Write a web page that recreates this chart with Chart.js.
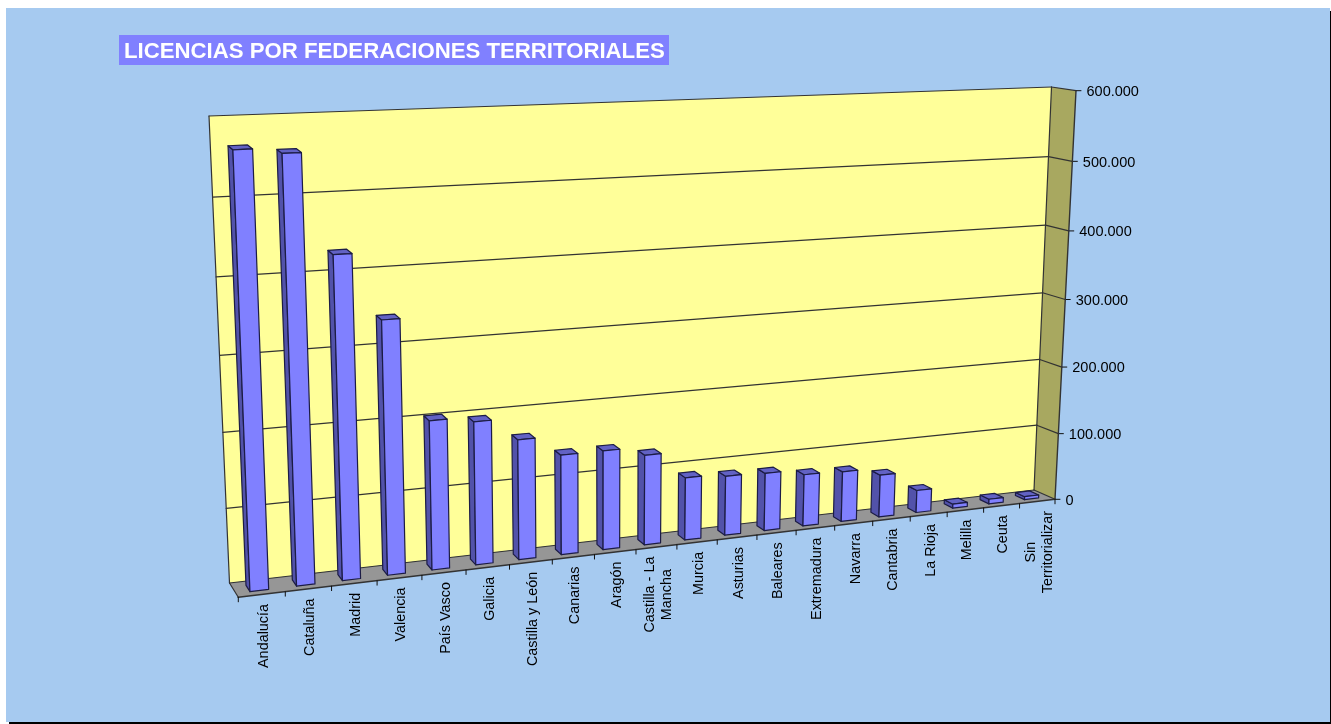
<!DOCTYPE html>
<html><head><meta charset="utf-8">
<style>html,body{margin:0;padding:0;background:#fff;overflow:hidden}canvas{display:block;filter:blur(0.35px)}</style>
<script src="https://cdn.jsdelivr.net/npm/chart.js@4"></script></head>
<body><canvas id="c" width="1331" height="724"></canvas>
<script>
const categories = ['Andalucía','Cataluña','Madrid','Valencia','País Vasco','Galicia','Castilla y León','Canarias','Aragón',['Castilla - La','Mancha'],'Murcia','Asturias','Baleares','Extremadura','Navarra','Cantabria','La Rioja','Melilla','Ceuta',['Sin','Territorializar']];
const licencias = [566000,559000,429000,341000,203000,196000,166000,139000,139000,127000,89000,85000,83000,75000,73000,62000,33000,6000,7000,4500];
const yTickStep = 100000, yMax = 600000;
const titleText = 'LICENCIAS POR FEDERACIONES TERRITORIALES';

// projection of the chart area on to the 3-D box
const backQuad  = [[209,116],[1051.5,87],[1034,490],[229.5,583]];
const frontQuad = [[220,125],[1076,90.7],[1055,499.3],[238.3,597.3]];
const depthNear = 0.72, depthFar = 0.28;

function homography(q){
  const [[x0,y0],[x1,y1],[x2,y2],[x3,y3]] = q;
  const dx1=x1-x2, dx2=x3-x2, sx=x0-x1+x2-x3, dy1=y1-y2, dy2=y3-y2, sy=y0-y1+y2-y3;
  const det=dx1*dy2-dx2*dy1;
  const g=(sx*dy2-dx2*sy)/det, h=(dx1*sy-sx*dy1)/det;
  const a=x1-x0+g*x1, b=x3-x0+h*x3, d=y1-y0+g*y1, e=y3-y0+h*y3;
  return (s,t)=>{const w=g*s+h*t+1;return [(a*s+b*t+x0)/w,(d*s+e*t+y0)/w];};
}
const HB=homography(backQuad), HF=homography(frontQuad);
// u: 0..1 along the categories, v: 0..1 up the values, d: 0 back .. 1 front
function P(u,v,d){const b=HB(u,1-v),f=HF(u,1-v);return [b[0]+(f[0]-b[0])*d,b[1]+(f[1]-b[1])*d];}
function poly(ctx,pts,fill,stroke,lw){
  ctx.beginPath();pts.forEach((p,i)=>i?ctx.lineTo(p[0],p[1]):ctx.moveTo(p[0],p[1]));ctx.closePath();
  if(fill){ctx.fillStyle=fill;ctx.fill();}
  if(stroke){ctx.strokeStyle=stroke;ctx.lineWidth=lw||1;ctx.lineJoin='round';ctx.stroke();}
}
function line(ctx,a,b,c,lw){ctx.beginPath();ctx.moveTo(a[0],a[1]);ctx.lineTo(b[0],b[1]);ctx.strokeStyle=c;ctx.lineWidth=lw||1;ctx.stroke();}
const fmt=n=>String(n).replace(/\B(?=(\d{3})+$)/g,'.');

const box3d={
  id:'box3d',
  beforeDraw(ch){
    const c=ch.ctx;
    c.save();
    c.fillStyle='#fff';c.fillRect(0,0,1331,724);
    c.fillStyle='#000';c.fillRect(9,722,1322,2);c.fillRect(1330,11,1,713);
    c.fillStyle='#A6CAF0';c.fillRect(6,8,1324,714);
    c.fillStyle='#8080FF';c.fillRect(119,35,550,30);
    c.fillStyle='#fff';c.font='bold 22.2px "Liberation Sans"';c.textAlign='left';c.textBaseline='alphabetic';
    c.fillText(titleText,124,58);
    c.restore();
  },
  beforeDatasetsDraw(ch){
    const c=ch.ctx,a=ch.chartArea,y=ch.scales.y;
    const edge='#333';
    c.save();c.lineCap='round';
    poly(c,[P(0,1,0),P(1,1,0),P(1,0,0),P(0,0,0)],'#FFFF99');
    poly(c,[P(1,1,0),P(1,1,1),P(1,0,1),P(1,0,0)],'#A8A860');
    poly(c,[P(0,0,0),P(1,0,0),P(1,0,1),P(0,0,1)],'#969696');
    y.ticks.forEach(t=>{
      const v=(a.bottom-y.getPixelForValue(t.value))/a.height;
      line(c,P(0,v,0),P(1,v,0),edge,1.2);
      line(c,P(1,v,0),P(1,v,1),edge,1.2);
      const f=P(1,v,1);
      line(c,f,[f[0]+5,f[1]],'#111',1);
      c.fillStyle='#000';c.font='14.5px "Liberation Sans"';c.textAlign='left';c.textBaseline='middle';
      c.fillText(fmt(t.value),f[0]+10.5,f[1]+1.2);
    });
    line(c,P(0,1,0),P(0,0,0),edge,1.2);
    line(c,P(1,1,0),P(1,0,0),edge,1.2);
    line(c,P(1,1,1),P(1,0,1),edge,1.4);
    line(c,P(0,0,0),P(0,0,1),edge,1.2);
    line(c,P(0,0,1),P(1,0,1),'#333',1.6);
    const n=categories.length;
    for(let i=0;i<=n;i++){const p=P(i/n,0,1);line(c,p,[p[0],p[1]+4.5],'#111',1);}
    c.fillStyle='#000';c.font='14.4px "Liberation Sans"';
    categories.forEach((l,i)=>{
      const p=P((i+0.5)/n,0,1),lines=Array.isArray(l)?l:[l];
      const widths=lines.map(s=>c.measureText(s).width),w=Math.max(...widths);
      c.save();c.translate(p[0]+1.8,p[1]+9.5+w/2);c.rotate(-Math.PI/2);
      c.textAlign='center';c.textBaseline='middle';
      lines.forEach((s,j)=>c.fillText(s,0,(j-(lines.length-1)/2)*17));
      c.restore();
    });
    c.restore();
  },
  beforeDatasetDraw(ch,args){
    const c=ch.ctx,a=ch.chartArea;
    c.save();
    const stroke='#1c1c45';
    args.meta.data.forEach(el=>{
      const b=el.getProps(['x','y','base','width'],true);
      const u0=(b.x-b.width/2-a.left)/a.width,u1=(b.x+b.width/2-a.left)/a.width;
      const vt=(a.bottom-b.y)/a.height,vb=(a.bottom-b.base)/a.height;
      const d0=depthFar,d1=depthNear;
      poly(c,[P(u0,vt,d0),P(u0,vt,d1),P(u0,vb,d1),P(u0,vb,d0)],'#5252AA',stroke,1.2);
      poly(c,[P(u0,vt,d0),P(u1,vt,d0),P(u1,vt,d1),P(u0,vt,d1)],'#6262C4',stroke,1.2);
      poly(c,[P(u0,vt,d1),P(u1,vt,d1),P(u1,vb,d1),P(u0,vb,d1)],'#8080FF',stroke,1.2);
    });
    c.restore();
    return false;
  }
};

new Chart(document.getElementById('c'),{
  type:'bar',
  data:{labels:categories,datasets:[{label:'Licencias',data:licencias,backgroundColor:'#8080FF',barPercentage:0.4,categoryPercentage:1}]},
  options:{
    responsive:false,animation:false,devicePixelRatio:1,
    layout:{padding:{left:200,right:300,top:100,bottom:130}},
    plugins:{legend:{display:false},tooltip:{enabled:false}},
    scales:{
      x:{display:false,type:'category'},
      y:{display:false,min:0,max:yMax,ticks:{stepSize:yTickStep}}
    }
  },
  plugins:[box3d]
});
</script></body></html>
